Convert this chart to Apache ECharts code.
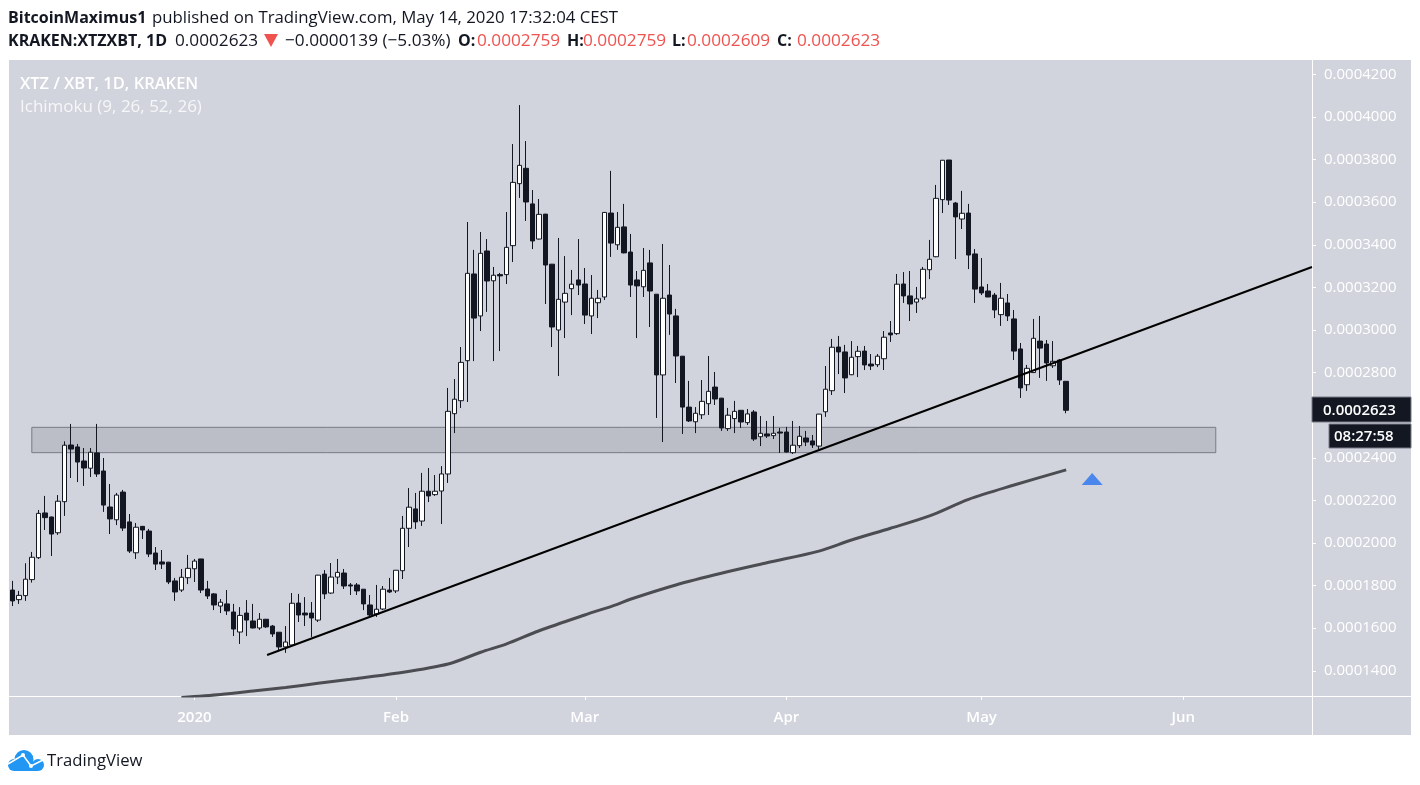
<!DOCTYPE html>
<html>
<head>
<meta charset="utf-8">
<title>XTZ / XBT</title>
<script src="https://cdn.jsdelivr.net/npm/echarts@6/dist/echarts.min.js"></script>
<style>
  html, body { margin: 0; padding: 0; background: #fff; }
  #main { width: 1420px; height: 785px; }
</style>
</head>
<body>
<div id="main"></div>
<script>
// prices are in units of 0.0000001
var firstDay = Date.UTC(2019, 11, 4);
var DAY = 86400000;

var opens = [
  1779,1734,1753,1828,1931,2141,2122,2048,2194,2460,
  2451,2385,2351,2423,2338,2169,2109,2239,2099,1954,
  2078,2056,1953,1911,1910,1822,1779,1837,1879,1925,
  1784,1761,1704,1714,1676,1582,1671,1634,1601,1642,
  1610,1581,1512,1521,1718,1671,1671,1638,1854,1765,
  1840,1859,1803,1803,1783,1709,1667,1690,1779,1775,
  1870,2069,2160,2103,2243,2227,2244,2324,2607,2668,
  2856,3263,3066,3371,3231,3260,3260,3396,3687,3759,
  3592,3427,3544,3309,3000,3131,3194,3235,3216,3066,
  3128,3155,3549,3400,3484,3366,3235,3203,3315,3168,
  2789,3164,3066,2877,2638,2569,2602,2654,2732,2680,
  2537,2584,2623,2565,2615,2499,2512,2504,2521,2521,
  2424,2457,2493,2479,2455,2616,2715,2920,2897,2790,
  2875,2901,2840,2837,2865,2986,2983,3216,3160,3131,
  3150,3283,3344,3612,3798,3596,3521,3549,3357,3202,
  3183,3164,3072,3127,3052,2911,2743,2800,2948,2934,
  2832,2859,2759
];
var closes = [
  1728,1754,1830,1933,2139,2119,2042,2196,2459,2441,
  2380,2352,2426,2324,2178,2113,2225,2070,1962,2074,
  2061,1948,1901,1901,1817,1770,1839,1881,1915,1779,
  1751,1709,1722,1681,1596,1660,1638,1601,1642,1606,
  1573,1512,1535,1717,1662,1662,1648,1849,1761,1840,
  1862,1798,1798,1775,1714,1662,1689,1783,1770,1872,
  2069,2168,2099,2243,2221,2243,2324,2618,2675,2848,
  3266,3056,3360,3230,3257,3254,3388,3693,3773,3601,
  3418,3543,3305,3014,3144,3172,3215,3211,3070,3149,
  3149,3552,3408,3482,3362,3211,3207,3280,3183,2789,
  3149,3075,2878,2638,2573,2609,2665,2712,2676,2540,
  2600,2618,2568,2606,2488,2515,2502,2515,2516,2427,
  2459,2501,2474,2460,2605,2722,2919,2897,2775,2872,
  2900,2836,2831,2877,2966,2977,3215,3160,3122,3146,
  3285,3332,3618,3797,3610,3531,3548,3352,3192,3174,
  3155,3094,3149,3066,2901,2728,2820,2961,2915,2845,
  2853,2765,2623
];
var lows = [
  1704,1714,1728,1814,1925,2061,1939,2038,2127,2305,
  2286,2268,2310,2310,2146,2042,2084,2056,1953,1925,
  2019,1934,1873,1878,1807,1728,1770,1807,1817,1765,
  1737,1685,1671,1662,1563,1526,1563,1599,1592,1601,
  1559,1493,1484,1518,1629,1610,1559,1629,1737,1761,
  1807,1784,1756,1756,1685,1657,1653,1685,1765,1765,
  1831,1981,2066,2080,2192,2221,2089,2282,2516,2634,
  2662,2854,2995,3085,2854,2901,3216,3319,3620,3512,
  3380,3425,3122,2920,2784,2962,3070,3164,3028,2981,
  3056,3141,3343,3376,3360,3155,2962,3155,3014,2587,
  2474,2977,2751,2512,2568,2516,2582,2601,2648,2526,
  2526,2516,2540,2554,2479,2455,2493,2488,2423,2425,
  2418,2446,2455,2446,2441,2592,2695,2793,2704,2788,
  2779,2812,2812,2826,2812,2944,2977,3127,3042,3080,
  3141,3239,3342,3549,3587,3333,3474,3286,3127,3164,
  3154,3056,3019,3042,2859,2681,2714,2798,2775,2761,
  2822,2742,2609
];
var highs = [
  1822,1775,1905,1958,2155,2221,2124,2225,2477,2559,
  2465,2446,2446,2559,2399,2277,2235,2249,2136,2094,
  2080,2066,1981,1967,1911,1836,1878,1944,1925,1925,
  1822,1765,1737,1779,1714,1699,1732,1714,1671,1643,
  1615,1582,1610,1765,1761,1746,1723,1850,1873,1906,
  1925,1878,1812,1812,1784,1756,1803,1798,1836,1873,
  2127,2258,2235,2329,2352,2319,2361,2728,2770,2920,
  3507,3376,3460,3427,3296,3268,3554,3873,4056,3887,
  3657,3615,3545,3310,3432,3347,3282,3427,3291,3258,
  3188,3554,3747,3554,3592,3451,3277,3385,3376,3169,
  3404,3305,3099,2878,2761,2638,2765,2878,2803,2681,
  2634,2667,2624,2629,2624,2596,2573,2596,2540,2545,
  2573,2549,2526,2507,2606,2831,2958,2972,2930,2948,
  2925,2925,2887,2887,2995,3042,3263,3272,3277,3202,
  3296,3423,3681,3798,3798,3601,3653,3592,3380,3338,
  3216,3174,3221,3169,3094,2939,2836,3052,3066,2953,
  2948,2864,2759
];

// moving average, read at a few days only
var maDays = [26,32,37,42,47,52,59,67,72,76,81,88,93,95,102,109,116,124,129,135,141,147,154,162];
var maValues = [1275,1289,1305,1322,1341,1360,1388,1432,1487,1526,1588,1662,1712,1736,1803,1858,1907,1962,2014,2069,2127,2205,2272,2343];

// trend line and support zone
var trendTimes = [Date.UTC(2020, 0, 12, 4), Date.UTC(2020, 5, 20, 19)];
var trendValues = [1474, 3296];
var zoneTimes = [Date.UTC(2019, 11, 7), Date.UTC(2020, 5, 6)];
var zoneValues = [2543, 2424];
var arrowTime = Date.UTC(2020, 4, 18);
var arrowValue = 2300;

var monthTicks = [Date.UTC(2020,0,1), Date.UTC(2020,1,1), Date.UTC(2020,2,1), Date.UTC(2020,3,1), Date.UTC(2020,4,1), Date.UTC(2020,5,1)];
var monthLabels = ['2020', 'Feb', 'Mar', 'Apr', 'May', 'Jun'];
var priceTicks = [1400,1600,1800,2000,2200,2400,2600,2800,3000,3200,3400,3600,3800,4000,4200];

var FONT = '"Open Sans", "Noto Sans", sans-serif';
var INK = '#131722';
var RED = '#ef5350';

function textEl(x, y, str, size, color, weight, opacity) {
  return {
    type: 'text', x: x, y: y, z: 20, silent: true,
    style: {
      text: str, fontFamily: FONT, fontSize: size, fill: color,
      fontWeight: weight || 'normal', opacity: opacity == null ? 1 : opacity,
      verticalAlign: 'middle', align: 'left'
    }
  };
}

var candles = opens.map(function (o, i) {
  return [firstDay + i * DAY, o, closes[i], lows[i], highs[i]];
});
var maLine = maDays.map(function (d, i) {
  return [firstDay + d * DAY, maValues[i]];
});
var trendLine = trendTimes.map(function (t, i) {
  return [t, trendValues[i]];
});

var myChart = echarts.init(document.getElementById('main'));

var option = {
  animation: false,
  backgroundColor: '#fff',
  textStyle: { fontFamily: FONT },
  grid: { left: 9, right: 108, top: 60, bottom: 89 },
  xAxis: {
    // timestamps on a value axis, the month ticks are not evenly spaced
    type: 'value',
    min: firstDay - 0.507 * DAY,
    max: firstDay + 199.793 * DAY,
    axisLine: { onZero: false, lineStyle: { color: '#fff', width: 1 } },
    axisTick: { customValues: monthTicks, length: 4, lineStyle: { color: '#fff' } },
    axisLabel: {
      customValues: monthTicks,
      color: '#fff', fontSize: 15, fontWeight: 600, margin: 14,
      formatter: function (v) { return monthLabels[monthTicks.indexOf(v)]; }
    },
    splitLine: { show: false }
  },
  yAxis: {
    type: 'value',
    position: 'right',
    min: 1281.6,
    max: 4267.6,
    axisLine: { show: true, lineStyle: { color: '#fff', width: 1 } },
    axisTick: { show: true, customValues: priceTicks, length: 4, lineStyle: { color: '#fff' } },
    axisLabel: {
      customValues: priceTicks,
      color: '#fff', fontSize: 15, margin: 12, padding: [3, 0, 0, 0],
      formatter: function (v) { return (v / 1e7).toFixed(7); }
    },
    splitLine: { show: false }
  },
  series: [
    {
      type: 'candlestick',
      z: 2,
      barWidth: 5,
      encode: { x: 0, y: [1, 2, 3, 4] },
      itemStyle: { color: '#fff', color0: INK, borderColor: INK, borderColor0: INK, borderWidth: 1 },
      data: candles
    },
    {
      type: 'line',
      z: 3,
      showSymbol: false,
      smooth: 0.3,
      lineStyle: { color: '#4c4d53', width: 3 },
      data: maLine
    },
    {
      type: 'line',
      z: 4,
      showSymbol: false,
      lineStyle: { color: '#000', width: 2 },
      data: trendLine,
      markArea: {
        silent: true,
        itemStyle: { color: 'rgba(120,123,134,0.24)', borderColor: '#787b86', borderWidth: 1 },
        data: [[
          { coord: [zoneTimes[0], zoneValues[0]] },
          { coord: [zoneTimes[1], zoneValues[1]] }
        ]]
      }
    },
    {
      type: 'scatter',
      z: 5,
      symbol: 'triangle',
      symbolSize: [21, 12],
      itemStyle: { color: '#4a86ec', opacity: 1 },
      data: [[arrowTime, arrowValue]]
    }
  ],
  graphic: [
    // chart panel
    { type: 'rect', z: -10, silent: true, shape: { x: 9, y: 60, width: 1402, height: 675 }, style: { fill: '#d1d4dc' } },
    { type: 'line', z: 1, silent: true, shape: { x1: 1312.5, y1: 60, x2: 1312.5, y2: 735 }, style: { stroke: '#fff', lineWidth: 1 } },
    { type: 'line', z: 1, silent: true, shape: { x1: 9, y1: 696.5, x2: 1411, y2: 696.5 }, style: { stroke: '#fff', lineWidth: 1 } },

    // header
    textEl(8, 18, 'BitcoinMaximus1', 16, INK, 700),
    textEl(152, 18, 'published on TradingView.com, May 14, 2020 17:32:04 CEST', 16.8, INK),
    textEl(8, 41, 'KRAKEN:XTZXBT, 1D', 16, INK, 700),
    textEl(175, 41, '0.0002623', 17.2, INK),
    { type: 'polygon', z: 20, silent: true, shape: { points: [[264, 34], [278, 34], [271, 47]] }, style: { fill: RED } },
    textEl(285, 41, '\u22120.0000139 (\u22125.03%)', 17.2, INK),
    textEl(458, 41, 'O:', 16, INK, 700),
    textEl(477, 41, '0.0002759', 17.2, RED),
    textEl(567, 41, 'H:', 16, INK, 700),
    textEl(583, 41, '0.0002759', 17.2, RED),
    textEl(672, 41, 'L:', 16, INK, 700),
    textEl(687, 41, '0.0002609', 17.2, RED),
    textEl(777, 41, 'C:', 16, INK, 700),
    textEl(797, 41, '0.0002623', 17.2, RED),

    // panel captions
    textEl(20, 84, 'XTZ / XBT, 1D, KRAKEN', 16.5, '#fff', 600),
    textEl(20, 107, 'Ichimoku (9, 26, 52, 26)', 17, '#fff', 'normal', 0.8),

    // last price and countdown
    { type: 'rect', z: 19, silent: true, shape: { x: 1312, y: 397, width: 99, height: 25 }, style: { fill: INK, stroke: '#787b86', lineWidth: 1 } },
    textEl(1323, 410.5, '0.0002623', 15, '#fff', 600),
    { type: 'rect', z: 19, silent: true, shape: { x: 1329, y: 424, width: 82, height: 24 }, style: { fill: INK, stroke: '#787b86', lineWidth: 1 } },
    textEl(1334, 437, '08:27:58', 15, '#fff', 600),

    // logo
    { type: 'circle', z: 20, silent: true, shape: { cx: 24, cy: 759.5, r: 9.5 }, style: { fill: '#2196f3' } },
    { type: 'circle', z: 20, silent: true, shape: { cx: 14, cy: 765, r: 6 }, style: { fill: '#2196f3' } },
    { type: 'circle', z: 20, silent: true, shape: { cx: 38, cy: 765, r: 6 }, style: { fill: '#2196f3' } },
    { type: 'rect', z: 20, silent: true, shape: { x: 14, y: 762, width: 24, height: 9 }, style: { fill: '#2196f3' } },
    { type: 'polyline', z: 21, silent: true, shape: { points: [[8, 764], [23, 755], [31, 766], [43, 760]] }, style: { stroke: '#fff', fill: null, lineWidth: 1.5 } },
    { type: 'circle', z: 21, silent: true, shape: { cx: 23, cy: 755, r: 2 }, style: { fill: '#fff' } },
    { type: 'circle', z: 21, silent: true, shape: { cx: 31, cy: 766, r: 2 }, style: { fill: '#fff' } },
    textEl(47, 761, 'TradingView', 16.7, INK)
  ]
};

myChart.setOption(option);
</script>
</body>
</html>
